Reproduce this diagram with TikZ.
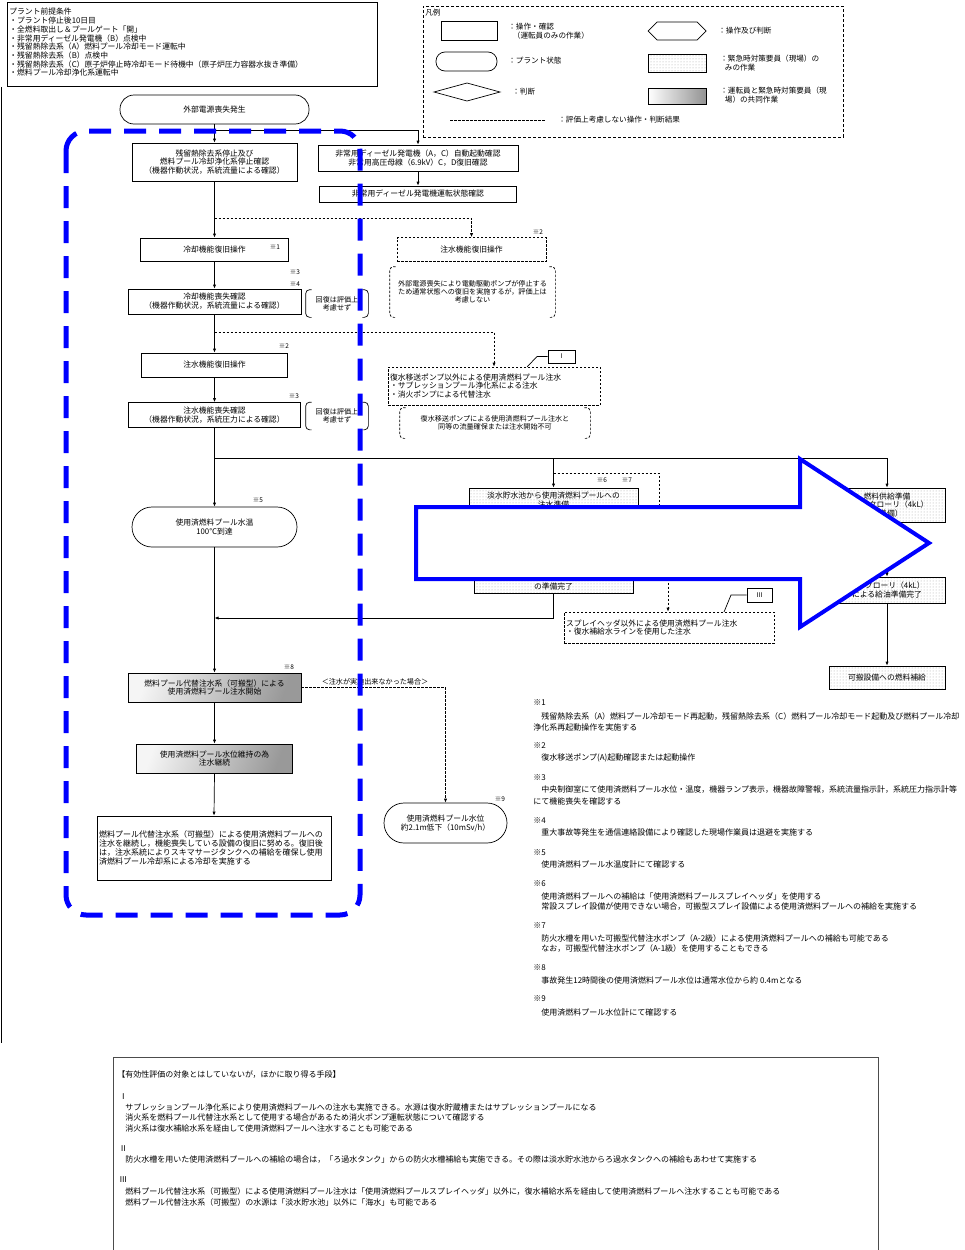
\documentclass[tikz,border=0pt]{standalone}
\usepackage{fontspec}
\setmainfont{Noto Sans CJK JP}
\usetikzlibrary{arrows.meta,patterns}
\definecolor{hl}{RGB}{0,0,255}
\newcommand{\fsmain}{\fontsize{7.8}{8.8}\selectfont}
\newcommand{\fssmall}{\fontsize{7.1}{8.2}\selectfont}
\newcommand{\fsnote}{\fontsize{8}{9}\selectfont}
\newcommand{\fsref}{\fontsize{6.5}{7}\selectfont}
\newcommand{\fspre}{\fontsize{7.8}{8.7}\selectfont}
\newcommand{\fsleg}{\fontsize{7.6}{9.5}\selectfont}
\newcommand{\brkpair}[2]{%
  \draw[#2, rounded corners=4pt] ([xshift=6pt]#1.north west) -- (#1.north west) -- (#1.south west) -- ([xshift=6pt]#1.south west);
  \draw[#2, rounded corners=4pt] ([xshift=-6pt]#1.north east) -- (#1.north east) -- (#1.south east) -- ([xshift=-6pt]#1.south east);}
\begin{document}
\begin{tikzpicture}[x=1pt,y=-1pt, line width=0.7pt, >={Latex[length=4pt,width=3.2pt]},
  flow/.style={font=\fsmain, align=center, inner sep=1pt},
  opbox/.style={flow, draw},
  dsh/.style={dash pattern=on 2.5pt off 1.5pt},
  statebox/.style={flow, draw, rounded corners=#1},
  statebox/.default=14pt,
  fieldbox/.style={flow, draw, pattern=dots, pattern color=gray!70},
  jointbox/.style={flow, draw, left color=gray!8, right color=gray!80, shading angle=70},
  refmark/.style={font=\fsref, inner sep=0},
  txt/.style={inner sep=0, anchor=west},
  notetxt/.style={txt, font=\fsnote},
]
\useasboundingbox (0,0) rectangle (964,1250);

% frame line
\coordinate (fr1) at (1.5,87);
\coordinate (fr2) at (1.5,1043);
\draw (fr1) -- (fr2);

% premise box
\node[draw, minimum width=370pt, minimum height=84pt, inner sep=0] (premise) at (192,44) {};
\node[anchor=north west, align=left, font=\fspre, inner sep=0] (premisetext) at (9,8) {プラント前提条件\\・プラント停止後10日目\\・全燃料取出し＆プールゲート「開」\\・非常用ディーゼル発電機（B）点検中\\・残留熱除去系（A）燃料プール冷却モード運転中\\・残留熱除去系（B）点検中\\・残留熱除去系（C）原子炉停止時冷却モード待機中（原子炉圧力容器水抜き準備）\\・燃料プール冷却浄化系運転中};

% legend
\node[draw, dash pattern=on 3pt off 2pt, line width=0.9pt, minimum width=420pt, minimum height=131pt, inner sep=0] (legend) at (633,71.5) {};
\node[anchor=north west, font=\fsleg, inner sep=0] (legtitle) at (425,9) {凡例};
\node[draw, minimum width=56pt, minimum height=19pt, inner sep=0] (lg1) at (469,30.5) {};
\node[txt, font=\fsleg, align=left] (lg1t) at (508,31) {：操作・確認\\\hspace{0.6em}（運転員のみの作業）};
\draw (648,31) -- (657,22) -- (697,22) -- (706,31) -- (697,40) -- (657,40) -- cycle;
\node[txt, font=\fsleg] (lg2t) at (718,31) {：操作及び判断};
\node[draw, rounded corners=9pt, minimum width=61pt, minimum height=19pt, inner sep=0] (lg3) at (466.5,61.5) {};
\node[txt, font=\fsleg] (lg3t) at (508,61) {：プラント状態};
\node[draw, pattern=dots, pattern color=gray!70, minimum width=58pt, minimum height=18pt, inner sep=0] (lg4) at (677,63) {};
\node[txt, font=\fsleg, align=left] (lg4t) at (720,63) {：緊急時対策要員（現場）の\\\hspace{0.6em}みの作業};
\draw (434,92) -- (467,83) -- (500,92) -- (467,101) -- cycle;
\node[txt, font=\fsleg] (lg5t) at (512,92) {：判断};
\node[draw, left color=white, right color=gray!85, minimum width=58pt, minimum height=16pt, inner sep=0] (lg6) at (677,96) {};
\node[txt, font=\fsleg, align=left] (lg6t) at (720,95) {：運転員と緊急時対策要員（現\\\hspace{0.6em}場）の共同作業};
\coordinate (lg7a) at (450,120);
\coordinate (lg7b) at (545,120);
\draw[dsh] (lg7a) -- (lg7b);
\node[txt, font=\fsleg] (lg7t) at (558,120) {：評価上考慮しない操作・判断結果};

% main flow
\node[statebox, minimum width=189pt, minimum height=29pt] (start) at (214.5,109.5) {外部電源喪失発生};
\node[opbox, minimum width=165pt, minimum height=38pt] (A) at (214.5,162) {残留熱除去系停止及び\\燃料プール冷却浄化系停止確認\\（機器作動状況，系統流量による確認）};
\node[opbox, minimum width=200pt, minimum height=26pt] (B) at (418,158) {非常用ディーゼル発電機（A，C）自動起動確認\\非常用高圧母線（6.9kV）C，D復旧確認};
\node[opbox, minimum width=197pt, minimum height=16pt] (C) at (418,194) {非常用ディーゼル発電機運転状態確認};
\node[opbox, minimum width=148pt, minimum height=23pt] (cool1) at (214.5,249.5) {冷却機能復旧操作};
\node[opbox, dsh, minimum width=149pt, minimum height=24pt] (inj1d) at (471.5,249.5) {注水機能復旧操作};
\node[flow, font=\fssmall, minimum width=165pt, minimum height=50pt, inner sep=0] (br1) at (472.5,292) {外部電源喪失により電動駆動ポンプが停止する\\ため通常状態への復旧を実施するが，評価上は\\考慮しない};
\brkpair{br1}{dsh}
\node[opbox, minimum width=173pt, minimum height=25pt] (cool2) at (214.5,301.5) {冷却機能喪失確認\\（機器作動状況，系統流量による確認）};
\node[flow, font=\fssmall, minimum width=62pt, minimum height=27pt, inner sep=0] (rb1) at (337,303.5) {回復は評価上\\考慮せず};
\brkpair{rb1}{}
\node[opbox, minimum width=146pt, minimum height=24pt] (inj2) at (214.5,365) {注水機能復旧操作};
\node[opbox, dsh, minimum width=212pt, minimum height=38pt, text width=208pt, align=left] (dashI) at (494,386) {復水移送ポンプ以外による使用済燃料プール注水\\・サプレッションプール浄化系による注水\\・消火ポンプによる代替注水};
\node[flow, font=\fssmall, minimum width=190pt, minimum height=30pt, inner sep=0] (br3) at (495,423) {復水移送ポンプによる使用済燃料プール注水と\\同等の流量確保または注水開始不可};
\brkpair{br3}{dsh}
\node[draw, minimum width=27pt, minimum height=13pt, inner sep=0, font=\fsref] (Ibox) at (561.5,356.5) {Ⅰ};
\node[opbox, minimum width=172pt, minimum height=25pt] (inj3) at (214.5,415) {注水機能喪失確認\\（機器作動状況，系統圧力による確認）};
\node[flow, font=\fssmall, minimum width=62pt, minimum height=27pt, inner sep=0] (rb2) at (337,416) {回復は評価上\\考慮せず};
\brkpair{rb2}{}
\node[statebox=20pt, minimum width=165pt, minimum height=40pt] (pool) at (214.5,527) {使用済燃料プール水温\\100℃到達};

% right-side field boxes
\node[fieldbox, minimum width=169pt, minimum height=27pt] (fresh) at (553.5,501.5) {};
\node[flow, anchor=north] (freshtxt) at (553.5,491) {淡水貯水池から使用済燃料プールへの\\注水準備};
\node[fieldbox, minimum width=159pt, minimum height=33pt] (ready) at (553.5,576.5) {};
\node[flow, anchor=south] (readytxt) at (553.5,591.5) {の準備完了};
\node[fieldbox, minimum width=116pt, minimum height=34pt, font=\fontsize{7.8}{8.2}\selectfont] (fuel1) at (887,505) {燃料供給準備\\（タンクローリ（4kL）\\の準備）};
\node[fieldbox, minimum width=116pt, minimum height=26pt] (fuel2) at (887,590) {タンクローリ（4kL）\\による給油準備完了};
\node[fieldbox, minimum width=116pt, minimum height=23pt] (fuel3) at (887,677.5) {可搬設備への燃料補給};
\node[opbox, dsh, minimum width=210pt, minimum height=31pt, text width=206pt, align=left] (spray) at (669,627.5) {スプレイヘッダ以外による使用済燃料プール注水\\・復水補給水ラインを使用した注水};
\node[draw, minimum width=25pt, minimum height=14pt, inner sep=0, font=\fsref] (IIIbox) at (759.5,595) {Ⅲ};

% lower flow
\node[jointbox, minimum width=173pt, minimum height=29pt] (alt1) at (214.5,687.5) {燃料プール代替注水系（可搬型）による\\使用済燃料プール注水開始};
\node[jointbox, minimum width=156pt, minimum height=29pt] (alt2) at (214.5,758.5) {使用済燃料プール水位維持の為\\注水継続};
\node[opbox, minimum width=234pt, minimum height=64pt, text width=230pt, align=left, font=\fontsize{8}{9}\selectfont] (final) at (214,848) {燃料プール代替注水系（可搬型）による使用済燃料プールへの\\注水を継続し，機能喪失している設備の復旧に努める。復旧後\\は，注水系統によりスキマサージタンクへの補給を確保し使用\\済燃料プール冷却系による冷却を実施する};
\node[statebox=20pt, minimum width=123pt, minimum height=40pt] (level) at (445.5,823) {使用済燃料プール水位\\約2.1m低下（10mSv/h）};
\node[flow, font=\fssmall, inner sep=0] (nolabel) at (375,681.5) {＜注水が実施出来なかった場合＞};

% reference marks
\node[refmark] (m1) at (275,247) {※1};
\node[refmark] (m2) at (538,232) {※2};
\node[refmark] (m3) at (295,272) {※3};
\node[refmark] (m4) at (295,284) {※4};
\node[refmark] (m5) at (284,346) {※2};
\node[refmark] (m6) at (294,396) {※3};
\node[refmark] (m7) at (258,500) {※5};
\node[refmark] (m8) at (602,480) {※6};
\node[refmark] (m9) at (627,480) {※7};
\node[refmark] (m10) at (289,667) {※8};
\node[refmark] (m11) at (500,799) {※9};

% connectors
\coordinate (j1) at (214.5,130);
\draw (start.south) -- (j1);
\draw[->] (j1) -- (A.north);
\draw[->] (j1) -| (B.north);
\draw[->] (B.south) -- (C.north);
\coordinate (j2) at (214.5,218);
\draw[->] (A.south) -- (cool1.north);
\draw[->, dsh] (j2) -| (inj1d.north);
\draw[->] (cool1.south) -- (cool2.north);
\coordinate (j3) at (214.5,332);
\draw[->] (cool2.south) -- (inj2.north);
\draw[->, dsh] (j3) -| (dashI.north);
\coordinate (Ik) at (537,356.5);
\coordinate (Ie) at (527,367);
\draw (Ibox.west) -- (Ik) -- (Ie);
\draw[->] (inj2.south) -- (inj3.north);
\coordinate (j4) at (214.5,458);
\draw[->] (inj3.south) -- (pool.north);
\draw[->] (j4) -| (fuel1.north);
\draw[->] (fresh.north |- j4) -- (fresh.north);
\coordinate (d1) at (553.5,473);
\coordinate (d2) at (659,473);
\coordinate (d3) at (659,545);
\coordinate (d4) at (668,545);
\draw[->, dsh] (d1) -- (d2) -- (d3) -- (d4) -- (d4 |- spray.north);
\coordinate (IIIk) at (731,595);
\coordinate (IIIe) at (724,612);
\draw (IIIbox.west) -- (IIIk) -- (IIIe);
\coordinate (r1) at (553.5,618);
\draw[->] (ready.south) -- (r1) -- (r1 -| pool.south);
\draw[->] (fuel1.south) -- (fuel2.north);
\draw[->] (fuel2.south) -- (fuel3.north);
\draw[->] (pool.south) -- (alt1.north);
\draw[->] (alt1.south) -- (alt2.north);
\draw[->] (alt2.south) -- (final.north);
\draw[->, dsh] (alt1.east) -| (level.north);

% notes
\node[notetxt] (n1h) at (533,703) {※1};
\node[notetxt] (n1a) at (541,716) {残留熱除去系（A）燃料プール冷却モード再起動，残留熱除去系（C）燃料プール冷却モード起動及び燃料プール冷却};
\node[notetxt] (n1b) at (533,727) {浄化系再起動操作を実施する};
\node[notetxt] (n2h) at (533,746) {※2};
\node[notetxt] (n2a) at (541,758) {復水移送ポンプ(A)起動確認または起動操作};
\node[notetxt] (n3h) at (533,778) {※3};
\node[notetxt] (n3a) at (541,790) {中央制御室にて使用済燃料プール水位・温度，機器ランプ表示，機器故障警報，系統流量指示計，系統圧力指示計等};
\node[notetxt] (n3b) at (533,801) {にて機能喪失を確認する};
\node[notetxt] (n4h) at (533,821) {※4};
\node[notetxt] (n4a) at (541,832) {重大事故等発生を通信連絡設備により確認した現場作業員は退避を実施する};
\node[notetxt] (n5h) at (533,853) {※5};
\node[notetxt] (n5a) at (541,864) {使用済燃料プール水温度計にて確認する};
\node[notetxt] (n6h) at (533,884) {※6};
\node[notetxt] (n6a) at (541,896) {使用済燃料プールへの補給は「使用済燃料プールスプレイヘッダ」を使用する};
\node[notetxt] (n6b) at (541,907) {常設スプレイ設備が使用できない場合，可搬型スプレイ設備による使用済燃料プールへの補給を実施する};
\node[notetxt] (n7h) at (533,926) {※7};
\node[notetxt] (n7a) at (541,938) {防火水槽を用いた可搬型代替注水ポンプ（A-2級）による使用済燃料プールへの補給も可能である};
\node[notetxt] (n7b) at (541,948) {なお，可搬型代替注水ポンプ（A-1級）を使用することもできる};
\node[notetxt] (n8h) at (533,968) {※8};
\node[notetxt] (n8a) at (541,980) {事故発生12時間後の使用済燃料プール水位は通常水位から約 0.4mとなる};
\node[notetxt] (n9h) at (533,999) {※9};
\node[notetxt] (n9a) at (541,1012) {使用済燃料プール水位計にて確認する};

% bottom box
\coordinate (bb1) at (113,1250);
\coordinate (bb2) at (113,1057);
\coordinate (bb3) at (878,1057);
\coordinate (bb4) at (878,1250);
\draw[gray!60!black] (bb1) -- (bb2) -- (bb3) -- (bb4);
\node[notetxt] (b0) at (117,1075) {【有効性評価の対象とはしていないが，ほかに取り得る手段】};
\node[notetxt] (b1h) at (119,1097) {Ⅰ};
\node[notetxt] (b1a) at (125,1107) {サプレッションプール浄化系により使用済燃料プールへの注水も実施できる。水源は復水貯蔵槽またはサプレッションプールになる};
\node[notetxt] (b1b) at (125,1117) {消火系を燃料プール代替注水系として使用する場合があるため消火ポンプ運転状態について確認する};
\node[notetxt] (b1c) at (125,1128) {消火系は復水補給水系を経由して使用済燃料プールへ注水することも可能である};
\node[notetxt] (b2h) at (119,1149) {Ⅱ};
\node[notetxt] (b2a) at (125,1160) {防火水槽を用いた使用済燃料プールへの補給の場合は，「ろ過水タンク」からの防火水槽補給も実施できる。その際は淡水貯水池からろ過水タンクへの補給もあわせて実施する};
\node[notetxt] (b3h) at (119,1180) {Ⅲ};
\node[notetxt] (b3a) at (125,1191) {燃料プール代替注水系（可搬型）による使用済燃料プール注水は「使用済燃料プールスプレイヘッダ」以外に，復水補給水系を経由して使用済燃料プールへ注水することも可能である};
\node[notetxt] (b3b) at (125,1202) {燃料プール代替注水系（可搬型）の水源は「淡水貯水池」以外に「海水」も可能である};

% blue overlays
\draw[hl, line width=5pt, dash pattern=on 22pt off 13pt, rounded corners=20pt] (66,131) rectangle (360,915);
\draw[hl, line width=4pt, fill=white, line join=miter] (416,507) -- (800,507) -- (800,459) -- (929,543) -- (800,627) -- (800,579) -- (416,579) -- cycle;
\end{tikzpicture}
\end{document}
